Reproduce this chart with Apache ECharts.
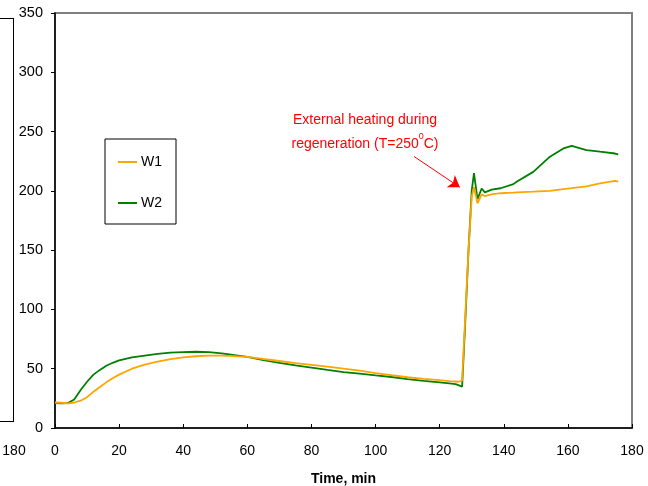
<!DOCTYPE html>
<html>
<head>
<meta charset="utf-8">
<script src="https://cdn.jsdelivr.net/npm/echarts@6/dist/echarts.min.js"></script>
<style>
html,body{margin:0;padding:0;background:#fff;}
#chart{width:648px;height:486px;}
</style>
</head>
<body>
<div id="chart"></div>
<script>
// Time points (min)
var timeMin = [0,2,4,6,8,10,12,14,16,18,20,24,28,32,36,40,44,48,52,56,60,65,70,75,80,85,90,95,100,105,110,115,120,123,125,126,127,128,129,130,130.7,131.8,133.1,134.1,136.2,139,143,144,149.2,154.4,158.6,161.2,165.8,170,174.7,175.7];
// W1 series values
var w1Values = [21.5,21.3,20.8,21.5,23,26,30.6,34.5,38.5,42,45,50,53.5,56,58,59.6,60.5,61,61,60.7,60,58.2,56.5,54.8,53.3,51.8,50,48.3,46.3,44.5,42.8,41.5,40.3,39.6,39.2,39,40,95,150,195,203,189.5,197,195.6,197,198,198.5,198.7,199.3,200,201.5,202.3,203.8,206.3,208.5,207.7];
// W2 series values
var w2Values = [21,20.8,21,24,32,39,45,49,52.5,55,57,59.5,61,62.5,63.5,64,64.3,64,63,61.5,60,57.3,55,52.8,51,49,47.2,45.8,44.3,43,41.3,39.8,38.5,37.7,37,36,34.8,90,150,200,215,193,202,198.7,201,202.2,205.7,207.7,216,228.8,235.8,238,234.4,233,231.5,230.8];
var seriesNames = ['W1','W2'];
var xTicks = [0,20,40,60,80,100,120,140,160,180];
var yTicks = [0,50,100,150,200,250,300,350];
// Arrow annotation (data coordinates)
var arrowFrom = [112, 229];
var arrowTo = [126.3, 203];

function pairs(t, v){ return t.map(function(x,i){ return [x, v[i]]; }); }

var chart = echarts.init(document.getElementById('chart'), null, {renderer:'canvas'});
var font = 'Liberation Sans, Arial, sans-serif';
chart.setOption({
  animation:false,
  backgroundColor:'#fff',
  grid:{left:55, top:13, right:16, bottom:58, show:true, borderColor:'#808080', borderWidth:2, containLabel:false, outerBoundsMode:'none'},
  legend:{
    orient:'vertical', left:105, top:139,
    data:seriesNames, icon:'rect',
    borderColor:'#000', borderWidth:1, padding:[16,14,14,13],
    itemWidth:19, itemHeight:2, itemGap:27,
    textStyle:{fontFamily:font, fontSize:14, color:'#000', padding:[0,0,0,-1]}
  },
  xAxis:{
    type:'value', min:xTicks[0], max:xTicks[xTicks.length-1], interval:20,
    name:'Time, min', nameLocation:'middle', nameGap:44,
    nameTextStyle:{fontFamily:font, fontSize:14, fontWeight:'bold', color:'#000'},
    axisLine:{show:true, lineStyle:{color:'#000', width:1.5}},
    axisTick:{show:true, inside:true, length:4, lineStyle:{color:'#000'}},
    axisLabel:{fontFamily:font, fontSize:14, color:'#000', margin:16},
    splitLine:{show:false}
  },
  yAxis:{
    type:'value', min:yTicks[0], max:yTicks[yTicks.length-1], interval:50,
    axisLine:{show:true, lineStyle:{color:'#000', width:1.5}},
    axisTick:{show:true, inside:false, length:4, lineStyle:{color:'#000'}},
    axisLabel:{fontFamily:font, fontSize:14.5, color:'#000', margin:12},
    splitLine:{show:false}
  },
  series:[
    {name:seriesNames[0], type:'line', data:pairs(timeMin,w1Values), symbol:'none', smooth:false,
     lineStyle:{color:'#FFA500', width:1.8}, itemStyle:{color:'#FFA500'}, z:3,
     markLine:{silent:true, symbol:['none','arrow'], symbolSize:11,
       lineStyle:{color:'#FF0000', width:1, type:'solid'}, label:{show:false},
       data:[[{coord:arrowFrom},{coord:arrowTo}]]}},
    {name:seriesNames[1], type:'line', data:pairs(timeMin,w2Values), symbol:'none', smooth:false,
     lineStyle:{color:'#008000', width:1.8}, itemStyle:{color:'#008000'}, z:2}
  ],
  graphic:[
    {type:'text', x:365, y:108, style:{
      text:'{a|External heating during}\n{a|regeneration (T=250}{s|0}{a|C)}',
      textAlign:'center', fill:'#FF0000', font:'14px '+font,
      rich:{a:{fontFamily:font, fontSize:14, color:'#FF0000', lineHeight:24},
            s:{fontFamily:font, fontSize:9, color:'#FF0000', verticalAlign:'top', lineHeight:24, padding:[0,0,8,0]}}
    }},
    {type:'line', shape:{x1:13.5, y1:18, x2:13.5, y2:422}, style:{stroke:'#000', lineWidth:1}},
    {type:'line', shape:{x1:0, y1:18.5, x2:13.5, y2:18.5}, style:{stroke:'#000', lineWidth:1}},
    {type:'line', shape:{x1:0, y1:421.5, x2:13.5, y2:421.5}, style:{stroke:'#000', lineWidth:1}},
    {type:'text', x:14, y:444, style:{text:'180', textAlign:'center', fill:'#000', font:'14px '+font}}
  ]
});
</script>
</body>
</html>
